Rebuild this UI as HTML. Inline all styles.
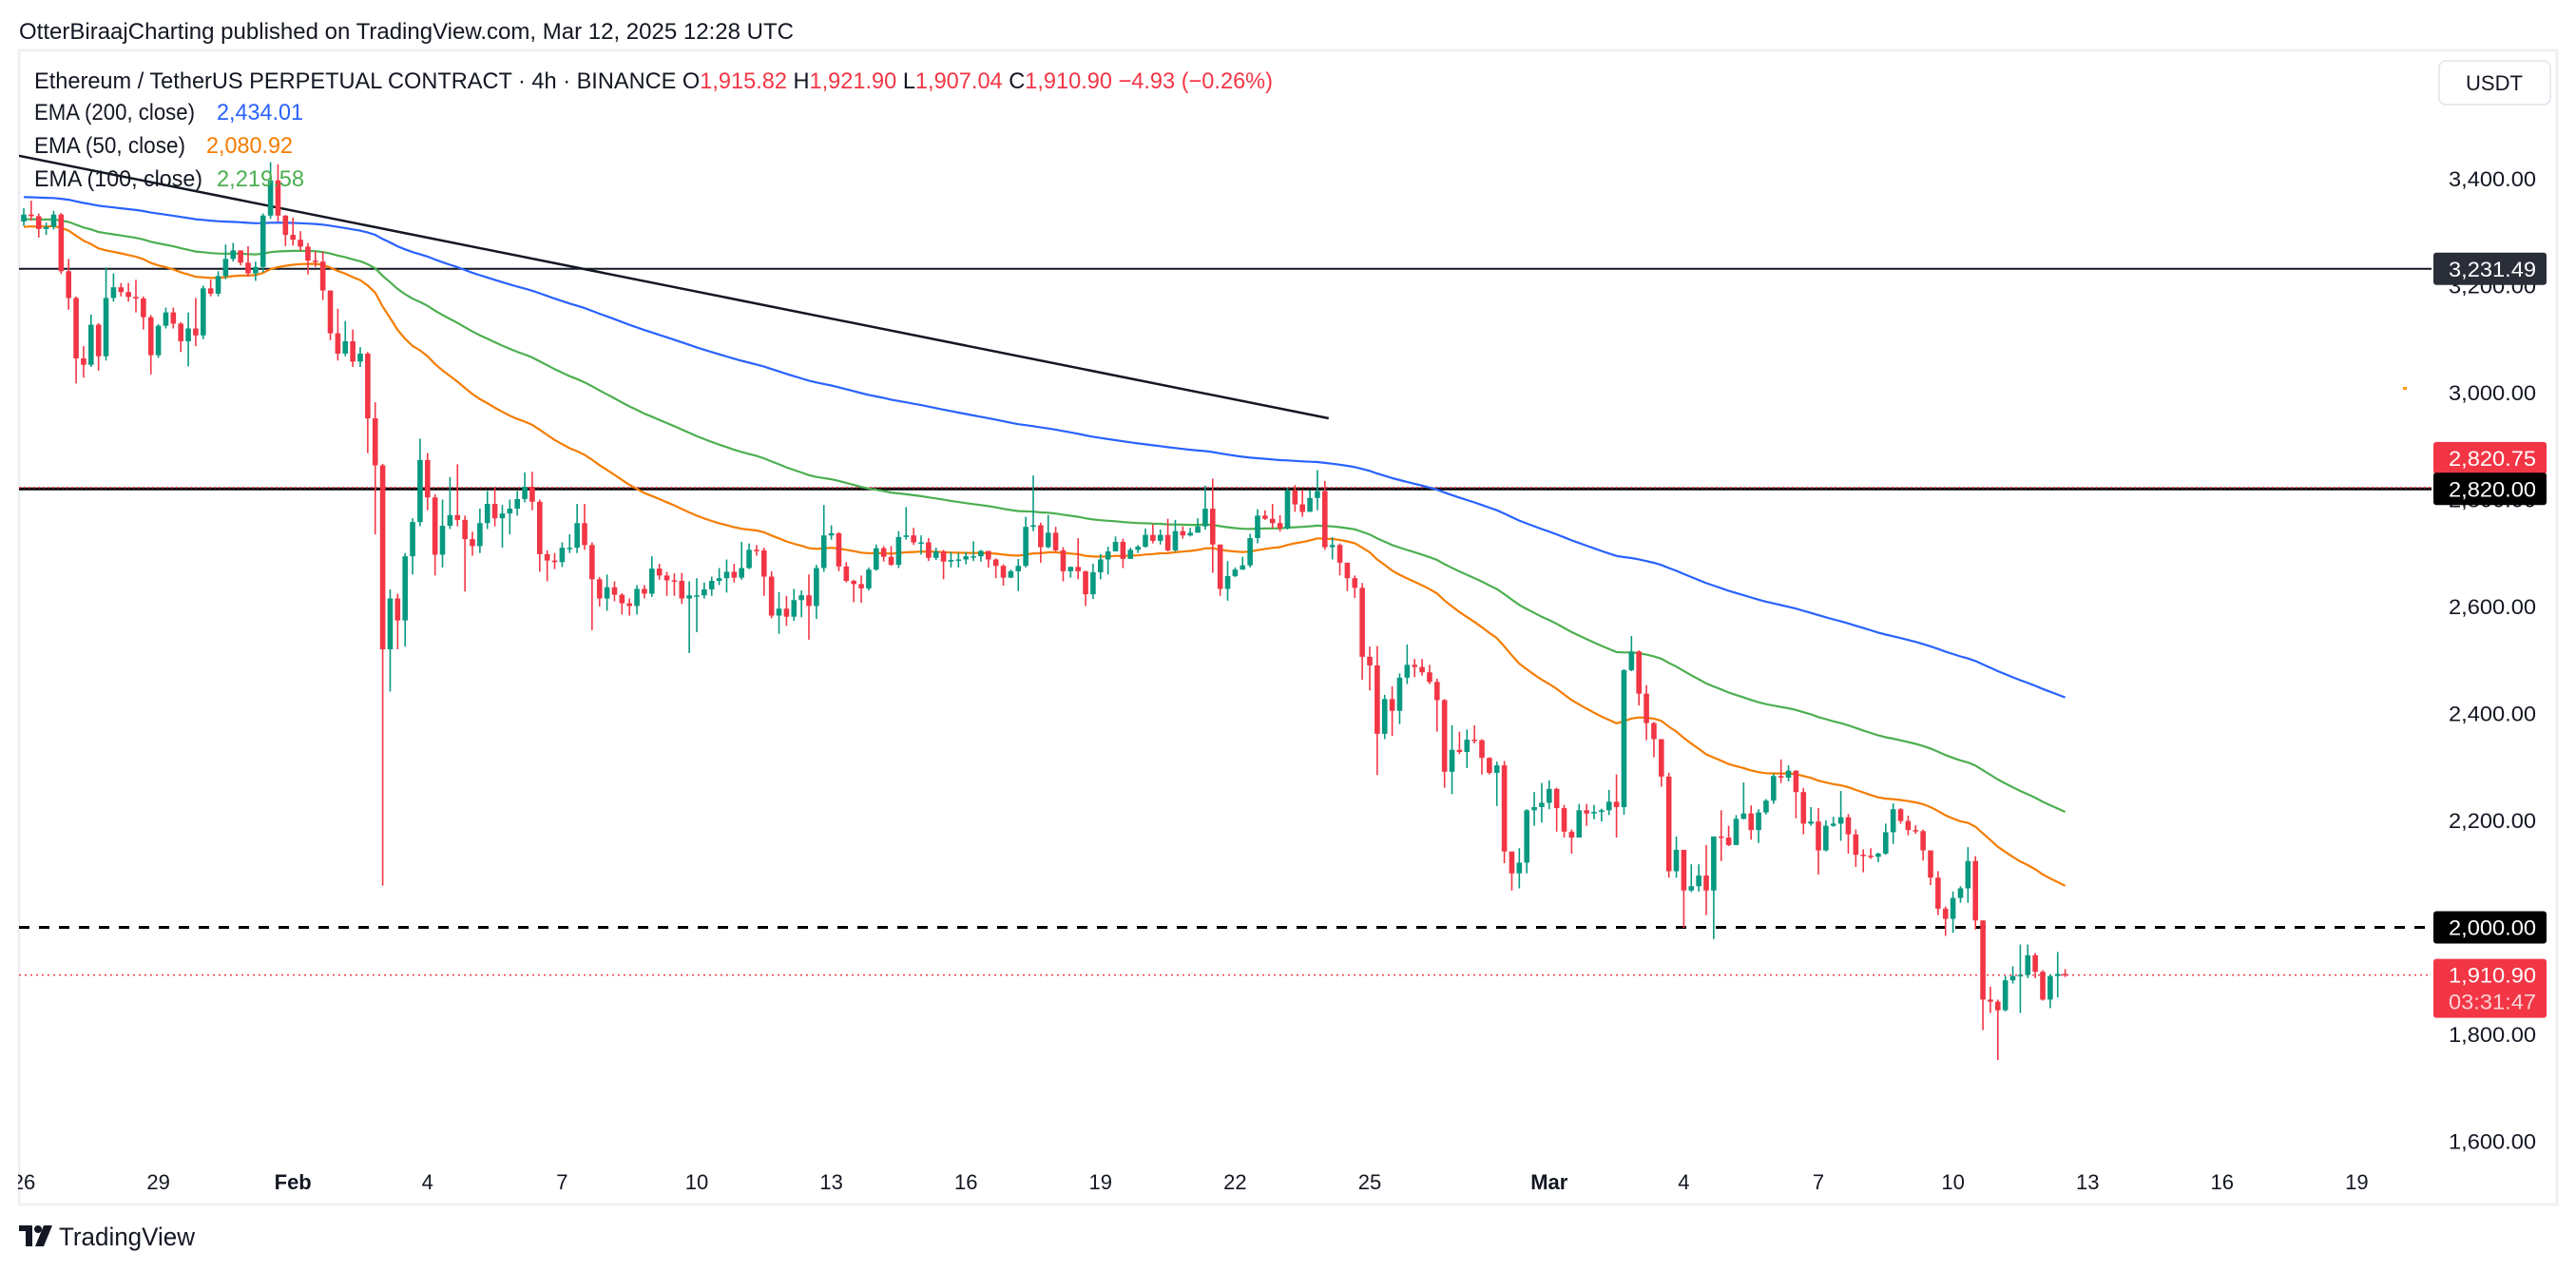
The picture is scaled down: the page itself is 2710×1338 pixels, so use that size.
<!DOCTYPE html>
<html><head><meta charset="utf-8">
<style>
html,body{margin:0;padding:0;background:#fff;}
svg{display:block;font-family:"Liberation Sans","DejaVu Sans",sans-serif;}
</style></head>
<body>
<svg id="chart" width="2710" height="1338" viewBox="0 0 2710 1338" xmlns="http://www.w3.org/2000/svg">
  <rect x="0" y="0" width="2710" height="1338" fill="#ffffff"/>
  <text x="20" y="41" font-size="24" fill="#131722" textLength="815" lengthAdjust="spacingAndGlyphs">OtterBiraajCharting published on TradingView.com, Mar 12, 2025 12:28 UTC</text>
  <rect x="20" y="53" width="2670" height="1214" fill="none" stroke="#eef0f3" stroke-width="3"/>
  <defs><clipPath id="plotClip"><rect x="20" y="55" width="2538" height="1212"/></clipPath></defs>
  <g id="plot" clip-path="url(#plotClip)"></g>
  <g id="axis"></g>
  <g id="timeaxis"></g>
  <g id="legend">
    <text x="36" y="93" font-size="24" fill="#131722" textLength="1303" lengthAdjust="spacingAndGlyphs">Ethereum / TetherUS PERPETUAL CONTRACT · 4h · BINANCE  O<tspan fill="#f23645">1,915.82</tspan>  H<tspan fill="#f23645">1,921.90</tspan>  L<tspan fill="#f23645">1,907.04</tspan>  C<tspan fill="#f23645">1,910.90</tspan>  <tspan fill="#f23645">−4.93 (−0.26%)</tspan></text>
    <text x="36" y="126" font-size="24" fill="#131722"><tspan textLength="169" lengthAdjust="spacingAndGlyphs">EMA (200, close)</tspan><tspan x="228" fill="#2962ff" textLength="91" lengthAdjust="spacingAndGlyphs">2,434.01</tspan></text>
    <text x="36" y="161" font-size="24" fill="#131722"><tspan textLength="159" lengthAdjust="spacingAndGlyphs">EMA (50, close)</tspan><tspan x="217" fill="#f57c00" textLength="91" lengthAdjust="spacingAndGlyphs">2,080.92</tspan></text>
    <text x="36" y="196" font-size="24" fill="#131722"><tspan textLength="177" lengthAdjust="spacingAndGlyphs">EMA (100, close)</tspan><tspan x="228" fill="#4caf50" textLength="92" lengthAdjust="spacingAndGlyphs">2,219.58</tspan></text>
  </g>
  <rect x="2566" y="64" width="117" height="46" rx="7" fill="#fff" stroke="#e0e3eb" stroke-width="1.5"/>
  <text x="2624" y="95" font-size="22" fill="#131722" text-anchor="middle">USDT</text>
  <g>
    <rect x="20" y="1289" width="14" height="6" fill="#131722"/>
    <rect x="27" y="1289" width="7" height="22" fill="#131722"/>
    <circle cx="40" cy="1293" r="4" fill="#131722"/>
    <polygon points="46,1289 55,1289 46,1311 37,1311" fill="#131722"/>
    <text x="62" y="1310" font-size="27" fill="#131722" textLength="143" lengthAdjust="spacingAndGlyphs">TradingView</text>
  </g>
</svg>
<script>
const closes = [3333,3330,3306,3310,3333,3227,3177,3064,3052,3127,3068,3177,3197,3188,3179,3176,3141,3070,3125,3150,
3129,3096,3120,3107,3195,3185,3218,3250,3266,3243,3223,3235,3331,3397,3331,3295,3286,3273,3247,3245,
3191,3111,3073,3096,3058,3073,2952,2864,2520,2615,2574,2694,2758,2874,2804,2697,2751,2771,2762,2726,
2713,2756,2792,2765,2774,2783,2801,2824,2796,2698,2686,2683,2710,2710,2756,2715,2651,2615,2636,2622,
2606,2601,2633,2624,2671,2658,2649,2648,2615,2621,2621,2632,2648,2653,2665,2654,2672,2706,2705,2656,
2583,2596,2581,2612,2621,2601,2672,2733,2737,2675,2648,2642,2634,2669,2709,2693,2678,2730,2733,2720,
2720,2691,2703,2684,2687,2688,2694,2694,2704,2688,2676,2654,2666,2676,2749,2752,2711,2738,2705,2666,
2674,2666,2623,2664,2688,2703,2721,2689,2706,2712,2734,2723,2734,2705,2741,2733,2738,2750,2783,2716,
2633,2657,2669,2677,2728,2770,2764,2756,2746,2817,2791,2777,2803,2816,2711,2715,2682,2653,2635,2506,
2490,2362,2427,2405,2467,2491,2487,2477,2459,2425,2291,2332,2328,2351,2350,2317,2289,2303,2142,2101,
2121,2219,2225,2233,2259,2223,2179,2168,2219,2213,2216,2219,2235,2225,2481,2516,2437,2382,2352,2282,
2105,2145,2069,2077,2097,2069,2170,2168,2154,2203,2213,2182,2215,2237,2283,2280,2293,2253,2194,2198,
2144,2190,2194,2206,2174,2136,2134,2132,2138,2178,2221,2199,2182,2180,2144,2093,2035,2016,2055,2073,
2124,2013,1865,1861,1845,1901,1909,1911,1948,1917,1865,1909,1913,1910.9];
const highs = [3345,3359,3335,3318,3340,3336,3250,3180,3087,3146,3130,3234,3223,3205,3205,3211,3180,3145,3128,3159,
3159,3132,3150,3177,3200,3211,3227,3277,3280,3265,3274,3245,3335,3431,3427,3332,3327,3302,3280,3264,
3264,3191,3157,3134,3118,3085,3076,2982,2867,2632,2624,2700,2765,2914,2887,2810,2800,2842,2866,2770,
2740,2783,2816,2824,2790,2800,2816,2851,2852,2800,2705,2700,2720,2735,2792,2792,2720,2655,2660,2647,
2625,2615,2640,2640,2694,2680,2665,2662,2663,2647,2653,2645,2656,2672,2688,2680,2721,2718,2715,2710,
2666,2627,2620,2633,2630,2660,2678,2790,2752,2739,2683,2650,2658,2673,2716,2713,2713,2741,2786,2747,
2733,2728,2710,2706,2702,2700,2702,2722,2706,2704,2690,2679,2669,2689,2768,2845,2757,2771,2749,2711,
2675,2728,2667,2680,2698,2712,2731,2727,2710,2715,2746,2754,2744,2764,2762,2750,2747,2765,2826,2839,
2716,2685,2673,2693,2736,2782,2780,2792,2771,2822,2827,2818,2818,2855,2835,2730,2718,2676,2658,2644,
2525,2526,2435,2451,2475,2529,2502,2502,2491,2465,2427,2378,2366,2370,2378,2352,2318,2310,2311,2133,
2148,2221,2253,2270,2275,2261,2229,2183,2231,2231,2229,2222,2257,2286,2483,2545,2518,2453,2384,2352,
2289,2170,2145,2118,2118,2154,2170,2219,2190,2210,2271,2228,2221,2240,2287,2314,2303,2294,2261,2225,
2223,2200,2207,2255,2212,2183,2146,2148,2140,2194,2232,2223,2209,2191,2183,2144,2105,2039,2067,2077,
2150,2133,2013,1889,1865,1909,1927,1968,1968,1952,1920,1912,1954,1921.9];
const lows = [3312,3322,3290,3295,3305,3222,3155,3017,3028,3048,3041,3060,3170,3180,3170,3150,3118,3034,3065,3120,
3120,3076,3049,3087,3100,3180,3180,3212,3245,3238,3217,3209,3225,3325,3320,3274,3275,3265,3221,3235,
3173,3098,3060,3068,3048,3048,2887,2735,2078,2441,2520,2525,2660,2750,2780,2658,2673,2745,2750,2628,
2695,2700,2745,2750,2710,2735,2770,2795,2780,2665,2647,2670,2674,2700,2700,2706,2556,2600,2592,2610,
2585,2583,2585,2615,2618,2650,2620,2620,2605,2513,2552,2615,2620,2640,2626,2645,2650,2670,2695,2620,
2578,2549,2564,2573,2580,2538,2577,2665,2725,2666,2645,2608,2607,2630,2667,2684,2676,2672,2725,2715,
2697,2685,2687,2651,2673,2673,2679,2685,2684,2673,2653,2639,2653,2629,2673,2741,2682,2709,2703,2647,
2654,2651,2601,2614,2651,2660,2703,2672,2689,2700,2710,2718,2716,2703,2703,2727,2731,2740,2744,2663,
2620,2611,2655,2669,2673,2718,2762,2746,2740,2744,2777,2768,2780,2780,2706,2688,2658,2629,2616,2463,
2443,2285,2352,2358,2380,2455,2468,2471,2455,2366,2261,2249,2324,2298,2344,2286,2286,2227,2120,2069,
2073,2101,2190,2196,2221,2179,2168,2138,2168,2190,2202,2198,2210,2168,2211,2479,2415,2350,2318,2263,
2093,2093,1999,2066,2067,2023,1978,2124,2152,2154,2202,2164,2158,2211,2231,2270,2273,2204,2174,2190,
2099,2142,2188,2162,2138,2113,2103,2128,2122,2136,2156,2194,2172,2175,2125,2079,2023,1984,1990,2046,
2046,1996,1808,1840,1752,1843,1895,1840,1905,1905,1863,1849,1869,1907.04];
const firstOpen = 3320;
const emaPeriods = [200, 100, 50];
const emaSeeds = [3366, 3324, 3309];
const priceTicks = [3400, 3200, 3000, 2800, 2600, 2400, 2200, 2000, 1800, 1600];
const tickLabels = ["3,400.00","3,200.00","3,000.00","2,800.00","2,600.00","2,400.00","2,200.00","2,000.00","1,800.00","1,600.00"];
const dateDays = [0,3,6,9,12,15,18,21,24,27,30,34,37,40,43,46,49,52];
const dateLabels = ["26","29","Feb","4","7","10","13","16","19","22","25","Mar","4","7","10","13","16","19"];
const levelValues = [3231.49, 2820.00, 2000.00];
const trendStart = [0, 3443];
const trendEnd = [174.5, 2952];

const NS = "http://www.w3.org/2000/svg";
const y = p => 188 + (3400 - p) * 0.5625;
const xi = i => 25 + i * (47.2 / 6);
const xd = d => 25 + d * 47.2;
function mk(tag, attrs, parent) {
  const el = document.createElementNS(NS, tag);
  for (const k in attrs) el.setAttribute(k, attrs[k]);
  parent.appendChild(el);
  return el;
}
const plot = document.getElementById('plot');
const axis = document.getElementById('axis');
const taxis = document.getElementById('timeaxis');

// horizontal levels
let l1 = mk('line', {x1: 20, x2: 2558, y1: y(levelValues[0]), y2: y(levelValues[0]), stroke: '#131722', 'stroke-width': 2}, plot);


let l2 = mk('line', {x1: 20, x2: 2558, y1: y(levelValues[1]), y2: y(levelValues[1]), stroke: '#000', 'stroke-width': 3}, plot);


let l2b = mk('line', {x1: 20, x2: 2558, y1: y(2820.75) - 1, y2: y(2820.75) - 1, stroke: '#f23645', 'stroke-width': 1.5, 'stroke-dasharray': '2 3'}, plot);


let l3 = mk('line', {x1: 20, x2: 2558, y1: y(levelValues[2]), y2: y(levelValues[2]), stroke: '#000', 'stroke-width': 3, 'stroke-dasharray': '11 10'}, plot);


let lp = mk('line', {x1: 20, x2: 2558, y1: y(closes[closes.length - 1]), y2: y(closes[closes.length - 1]), stroke: '#f23645', 'stroke-width': 1.5, 'stroke-dasharray': '2 4'}, plot);



// trendline
let tl = mk('line', {x1: xi(trendStart[0]) - 5, y1: y(trendStart[1]), x2: xi(trendEnd[0]), y2: y(trendEnd[1]), stroke: '#131722', 'stroke-width': 2.5}, plot);



// EMAs
const emaColors = ['#2962ff', '#4caf50', '#f57c00'];
const emaNames = ['ema-200-line', 'ema-100-line', 'ema-50-line'];
emaPeriods.forEach((n, k) => {
  const a = 2 / (n + 1);
  let e = emaSeeds[k];
  let d = '';
  closes.forEach((c, i) => {
    e = e + a * (c - e);
    d += (i ? 'L' : 'M') + xi(i).toFixed(1) + ' ' + y(e).toFixed(1);
  });
  const p = mk('path', {d: d, fill: 'none', stroke: emaColors[k], 'stroke-width': 2.2}, plot);
  
  
});

// candles
closes.forEach((c, i) => {
  const o = i === 0 ? firstOpen : closes[i - 1];
  const up = c >= o;
  const col = up ? '#089981' : '#f23645';
  const g = mk('g', {}, plot);
  
  
  const x = xi(i);
  mk('line', {x1: x, x2: x, y1: y(Math.max(highs[i], o, c)), y2: y(Math.min(lows[i], o, c)), stroke: col, 'stroke-width': 1.6}, g);
  const top = y(Math.max(o, c)), bot = y(Math.min(o, c));
  mk('rect', {x: x - 2.8, y: top, width: 5.6, height: Math.max(1.5, bot - top), fill: col}, g);
});

// orange marker
let om = mk('rect', {x: 2528, y: 407, width: 4, height: 3, fill: '#ff9800'}, plot);



// price axis ticks
priceTicks.forEach((p, k) => {
  const t = mk('text', {x: 2668, y: y(p) + 8, 'font-size': 22, fill: '#131722', 'text-anchor': 'end', textLength: 92, lengthAdjust: 'spacingAndGlyphs'}, axis);
  
  
  t.textContent = tickLabels[k];
});

function tag(yc, h, fill, txt, name, txt2) {
  const g = mk('g', {}, axis);
  
  
  mk('rect', {x: 2560, y: yc - 17, width: 119, height: h, rx: 3, fill: fill}, g);
  const t = mk('text', {x: 2668, y: yc + 8, 'font-size': 22, fill: '#fff', 'text-anchor': 'end', textLength: 92, lengthAdjust: 'spacingAndGlyphs'}, g);
  t.textContent = txt;
  if (txt2) {
    const t2 = mk('text', {x: 2668, y: yc + 36, 'font-size': 22, fill: '#fbd0d4', 'text-anchor': 'end', textLength: 92, lengthAdjust: 'spacingAndGlyphs'}, g);
    t2.textContent = txt2;
  }
}
tag(y(levelValues[0]), 34, '#2a2e39', '3,231.49', 'level-3231-tag');
tag(y(2820.75) - 32, 34, '#f23645', '2,820.75', 'prev-close-tag');
tag(y(levelValues[1]), 34, '#000000', '2,820.00', 'level-2820-tag');
tag(y(levelValues[2]), 34, '#000000', '2,000.00', 'level-2000-tag');
tag(y(closes[closes.length - 1]), 62, '#f23645', '1,910.90', 'last-price-tag', '03:31:47');

// time axis
dateDays.forEach((d, k) => {
  const bold = dateLabels[k] === 'Feb' || dateLabels[k] === 'Mar';
  const t = mk('text', {x: xd(d), y: 1251, 'font-size': 22, fill: '#131722', 'text-anchor': 'middle', 'font-weight': bold ? 'bold' : 'normal'}, taxis);
  
  
  t.textContent = dateLabels[k];
});
// cover label overflow on left edge
let cov = mk('rect', {x: 0, y: 1220, width: 19, height: 45, fill: '#fff'}, taxis);


</script>
</body></html>
